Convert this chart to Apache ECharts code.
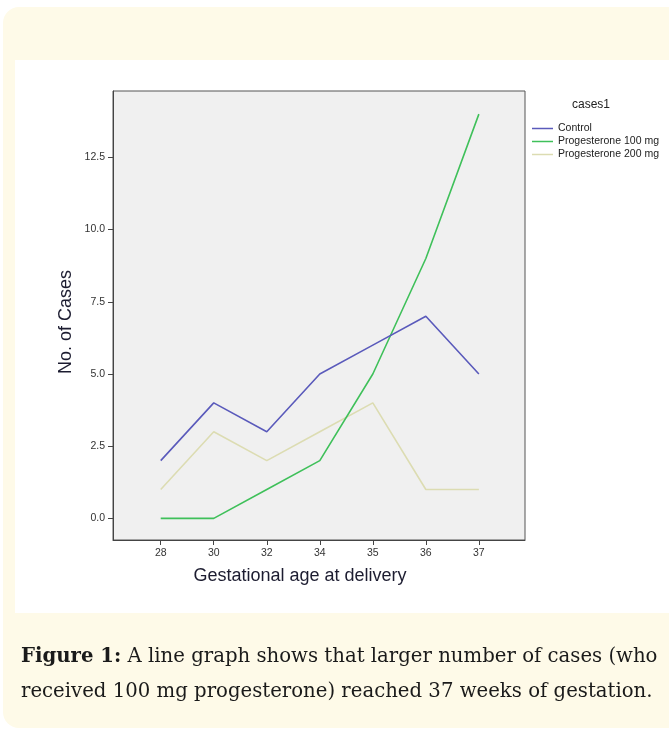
<!DOCTYPE html>
<html>
<head>
<meta charset="utf-8">
<script src="https://cdn.jsdelivr.net/npm/echarts@6/dist/echarts.min.js"></script>
<style>
html,body{margin:0;padding:0;background:#ffffff;}
#chart{width:669px;height:730px;}
</style>
</head>
<body>
<div id="chart"></div>
<script>
const categories = ['28', '30', '32', '34', '35', '36', '37'];
const control = [2, 4, 3, 5, 6, 7, 5];
const prog100 = [0, 0, 1, 2, 5, 9, 14];
const prog200 = [1, 3, 2, 3, 4, 1, 1];
const yTicks = [0, 2.5, 5, 7.5, 10, 12.5];
const seriesNames = ['Control', 'Progesterone 100 mg', 'Progesterone 200 mg'];
const seriesColors = ['#5a5abb', '#3fc05a', '#dcdcb2'];

const chart = echarts.init(document.getElementById('chart'), null, {renderer: 'canvas'});
const idx = categories.map((c, i) => i);
function pairs(arr) { return idx.map(i => [i, arr[i]]); }
const sansFont = 'Liberation Sans, Arial, sans-serif';
const serifFont = 'DejaVu Serif, serif';

const option = {
  backgroundColor: '#ffffff',
  animation: false,
  grid: {
    left: 113, top: 91, right: 144, bottom: 190,
    show: true, backgroundColor: '#f0f0f0', borderColor: '#555555', borderWidth: 1,
    containLabel: false, outerBoundsMode: 'none'
  },
  xAxis: {
    type: 'value', min: -0.9, max: 6.87,
    splitLine: {show: false},
    axisLine: {show: true, onZero: false, lineStyle: {color: '#444444', width: 1}},
    axisTick: {show: true, length: 5, lineStyle: {color: '#444444'}, customValues: idx},
    axisLabel: {
      customValues: idx, margin: 8, fontSize: 10.5, color: '#333333', fontFamily: sansFont,
      formatter: v => categories[Math.round(v)]
    }
  },
  yAxis: {
    type: 'value', min: -0.75, max: 14.8,
    splitLine: {show: false},
    axisLine: {show: true, onZero: false, lineStyle: {color: '#444444', width: 1}},
    axisTick: {show: true, length: 5, lineStyle: {color: '#444444'}, customValues: yTicks},
    axisLabel: {
      customValues: yTicks, margin: 8, fontSize: 10.5, color: '#333333', fontFamily: sansFont,
      formatter: v => v.toFixed(1)
    }
  },
  legend: {
    orient: 'vertical', left: 527, top: 118,
    icon: 'rect', itemWidth: 21, itemHeight: 1.5, itemGap: 2,
    data: seriesNames,
    textStyle: {fontSize: 10.5, color: '#222222', fontFamily: sansFont}
  },
  series: [control, prog100, prog200].map((arr, k) => ({
    name: seriesNames[k], type: 'line', data: pairs(arr),
    symbol: 'none', lineStyle: {width: 1.6, color: seriesColors[k]},
    itemStyle: {color: seriesColors[k]}
  })).reverse(),
  graphic: [
    {type: 'rect', z: -10, silent: true, shape: {x: 3, y: 7, width: 680, height: 721, r: 16},
     style: {fill: '#fefae8'}},
    {type: 'rect', z: -9, silent: true, shape: {x: 15, y: 60, width: 660, height: 553},
     style: {fill: '#ffffff'}},
    {type: 'text', left: 572, top: 99, silent: true,
     style: {text: 'cases1', fontSize: 12, fill: '#222222', fontFamily: sansFont}},
    {type: 'text', x: 66, y: 322, rotation: Math.PI / 2, silent: true,
     style: {text: 'No. of Cases', fontSize: 18, fill: '#1c1c30', fontFamily: sansFont,
             align: 'center', verticalAlign: 'middle'}},
    {type: 'text', x: 300, y: 576, silent: true,
     style: {text: 'Gestational age at delivery', fontSize: 18, fill: '#1c1c30', fontFamily: sansFont,
             align: 'center', verticalAlign: 'middle'}},
    {type: 'text', x: 21, y: 657, silent: true,
     style: {text: '{b|Figure 1:} A line graph shows that larger number of cases (who',
             fontSize: 19.7, fill: '#1a1a1a', fontFamily: serifFont, verticalAlign: 'middle',
             rich: {b: {fontWeight: 'bold', fontSize: 19.7, fontFamily: serifFont, fill: '#1a1a1a'}}}},
    {type: 'text', x: 21, y: 692, silent: true,
     style: {text: 'received 100 mg progesterone) reached 37 weeks of gestation.',
             fontSize: 19.7, fill: '#1a1a1a', fontFamily: serifFont, verticalAlign: 'middle'}}
  ]
};
chart.setOption(option);
</script>
</body>
</html>
